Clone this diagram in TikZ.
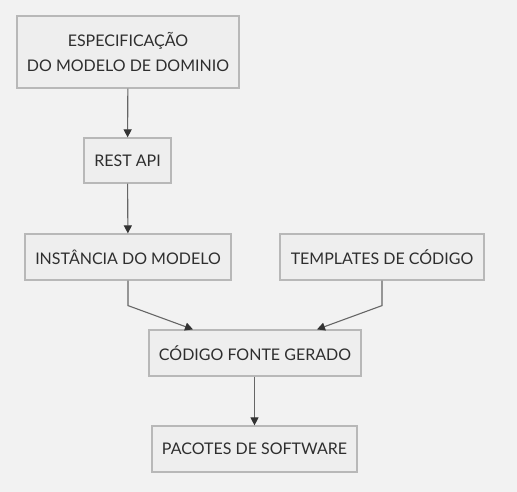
\documentclass[tikz,border=0pt]{standalone}
\usepackage{fontspec}
\setmainfont{Lato}
\usepackage{tikz}
\usepackage{xcolor}
\usetikzlibrary{positioning,arrows.meta}
\definecolor{pagegray}{HTML}{F2F2F2}
\definecolor{boxgray}{HTML}{EEEEEE}
\definecolor{edgegray}{HTML}{B8B8B8}
\definecolor{linegray}{HTML}{666666}
\definecolor{tipgray}{HTML}{333333}
\definecolor{textgray}{HTML}{2E2E2E}

\begin{document}
\begin{tikzpicture}[x=1pt, y=-1pt, semithick,
    block/.style={rectangle, draw=edgegray, line width=1.2pt, fill=boxgray, text=textgray,
      font=\fontsize{16}{25}\selectfont, align=center, inner sep=0pt, minimum height=46pt},
    link/.style={draw=linegray, line width=1.1pt, -{Triangle[length=8pt, width=8pt, color=tipgray]}}]
    \fill[pagegray] (0,0) rectangle (517,492);
    \useasboundingbox (0,0) rectangle (517,492);

    \node[block, minimum width=222pt, minimum height=72pt] (spec) at (128,52) {ESPECIFICAÇÃO\\DO MODELO DE DOMINIO};
    \node[block, minimum width=87pt, minimum height=45pt] (rest) at (127.5,160.5) {REST API};
    \node[block, minimum width=206pt] (inst) at (128,257) {INSTÂNCIA DO MODELO};
    \node[block, minimum width=204pt] (tmpl) at (382,257) {TEMPLATES DE CÓDIGO};
    \node[block, minimum width=212pt] (code) at (255,353) {CÓDIGO FONTE GERADO};
    \node[block, minimum width=205pt] (pack) at (254.5,449) {PACOTES DE SOFTWARE};

    \draw[link] (spec) -- (rest);
    \draw[link] (rest) -- (inst);
    \draw[link] (inst.south) -- ++(0,25) -- ([xshift=-62pt]code.north);
    \draw[link] (tmpl.south) -- ++(0,25) -- ([xshift=62pt]code.north);
    \draw[link] (code.south -| pack.north) -- (pack);
  \end{tikzpicture}
\end{document}
